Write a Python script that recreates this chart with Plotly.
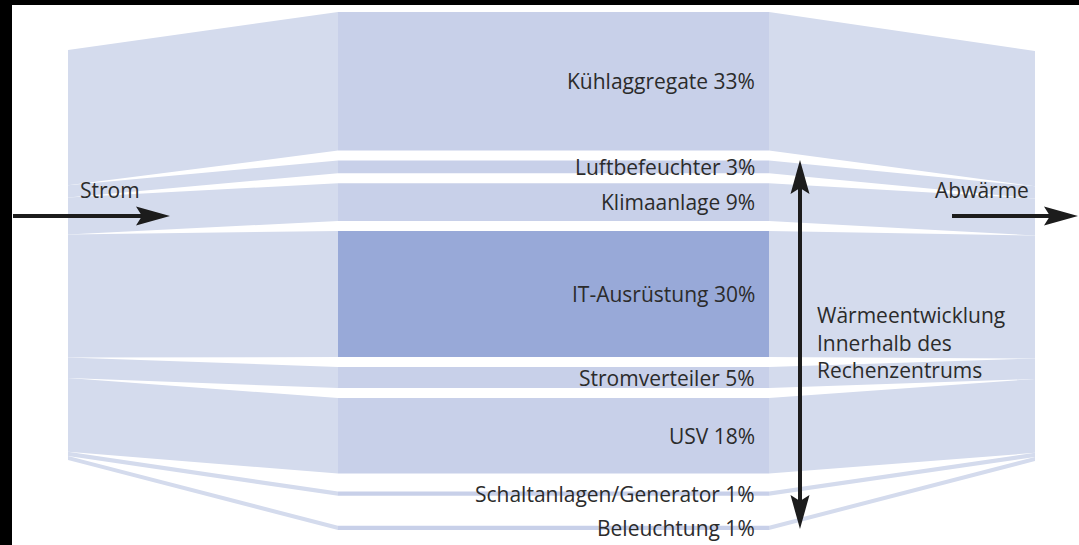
import plotly.graph_objects as go

# ---------------- data ----------------
categories = ["Kühlaggregate", "Luftbefeuchter", "Klimaanlage", "IT-Ausrüstung",
              "Stromverteiler", "USV", "Schaltanlagen/Generator", "Beleuchtung"]
shares = [33, 3, 9, 30, 5, 18, 1, 1]          # percent of electricity use
highlight = "IT-Ausrüstung"
side_labels = ["Strom", "Abwärme"]
heat_text = ["Wärmeentwicklung", "Innerhalb des", "Rechenzentrums"]

# ---------------- layout constants (pixel-like data space) ----------------
W, H = 1079, 545
X_LEFT, X_C0, X_C1, X_RIGHT = 68, 338, 769, 1035
C_TOP, C_SCALE = 12, 4.2                     # centre column
GAPS = [10, 10, 10, 10, 10, 18, 30]          # white gaps between centre bands
E_TOP_L, E_TOP_R, E_SCALE = 50, 51, 4.1      # outer edges (no gaps)

C_WEDGE = "#d4dbed"
C_BAND = "#c8d0e9"
C_HI = "#98a9d8"
INK = "#1c1c1c"
TXT = "#2b2b2b"
FONT = "Open Sans"
FS = 21

# centre band positions
c_top, c_bot = [], []
y = C_TOP
for i, v in enumerate(shares):
    c_top.append(y)
    y += v * C_SCALE
    c_bot.append(y)
    if i < len(GAPS):
        y += GAPS[i]

def edge_positions(top):
    t, b = [], []
    yy = top
    for v in shares:
        t.append(yy)
        yy += v * E_SCALE
        b.append(yy)
    return t, b

l_top, l_bot = edge_positions(E_TOP_L)
r_top, r_bot = edge_positions(E_TOP_R)

fig = go.Figure()

def poly(xs, ys, color):
    fig.add_trace(go.Scatter(x=xs + [xs[0]], y=ys + [ys[0]], mode="lines",
                             fill="toself", fillcolor=color,
                             line=dict(width=0, color=color),
                             hoverinfo="skip", showlegend=False))

for i, name in enumerate(categories):
    poly([X_LEFT, X_C0, X_C0, X_LEFT],
         [l_top[i], c_top[i], c_bot[i], l_bot[i]], C_WEDGE)
    poly([X_C1, X_RIGHT, X_RIGHT, X_C1],
         [c_top[i], r_top[i], r_bot[i], c_bot[i]], C_WEDGE)
    poly([X_C0, X_C1, X_C1, X_C0],
         [c_top[i], c_top[i], c_bot[i], c_bot[i]],
         C_HI if name == highlight else C_BAND)

# ---------------- arrows ----------------
def shaft(xs, ys):
    fig.add_trace(go.Scatter(x=xs, y=ys, mode="lines",
                             line=dict(width=4, color=INK),
                             hoverinfo="skip", showlegend=False))

def head(tip, direction, length=34, half=9.5, notch=6):
    tx, ty = tip
    dx, dy = direction
    px, py = -dy, dx
    bx, by = tx - dx * length, ty - dy * length
    nx, ny = tx - dx * (length - notch), ty - dy * (length - notch)
    poly([tx, bx + px * half, nx, bx - px * half],
         [ty, by + py * half, ny, by - py * half], INK)

AY = 216
shaft([13, 145], [AY, AY]); head((170, AY), (1, 0))
shaft([952, 1052], [AY, AY]); head((1078, AY), (1, 0))
shaft([800, 800], [185, 503]); head((800, 160), (0, -1)); head((800, 529), (0, 1))

# ---------------- text ----------------
ann = []
for i, (name, v) in enumerate(zip(categories, shares)):
    ann.append(dict(x=757, y=(c_top[i] + c_bot[i]) / 2, xref="x", yref="y",
                    text=f"{name} {v}%", showarrow=False, xanchor="right",
                    yanchor="middle", font=dict(family=FONT, size=FS, color=TXT)))
ann.append(dict(x=78, y=190, xref="x", yref="y", text=side_labels[0], showarrow=False,
                xanchor="left", yanchor="middle", font=dict(family=FONT, size=FS, color=TXT)))
ann.append(dict(x=933, y=190, xref="x", yref="y", text=side_labels[1], showarrow=False,
                xanchor="left", yanchor="middle", font=dict(family=FONT, size=FS, color=TXT)))
for j, t in enumerate(heat_text):
    ann.append(dict(x=815, y=315 + 27.5 * j, xref="x", yref="y", text=t, showarrow=False,
                    xanchor="left", yanchor="middle", font=dict(family=FONT, size=FS, color=TXT)))

fig.update_layout(
    width=W, height=H,
    margin=dict(l=12, r=0, t=5, b=0, pad=0),
    paper_bgcolor="black", plot_bgcolor="white",
    xaxis=dict(range=[12, W], visible=False, fixedrange=True),
    yaxis=dict(range=[H, 5], visible=False, fixedrange=True),
    annotations=ann, showlegend=False,
)
fig.write_html("out.html", config=dict(displayModeBar=False),
               post_script="document.body.style.margin='0';document.body.style.overflow='hidden';")
